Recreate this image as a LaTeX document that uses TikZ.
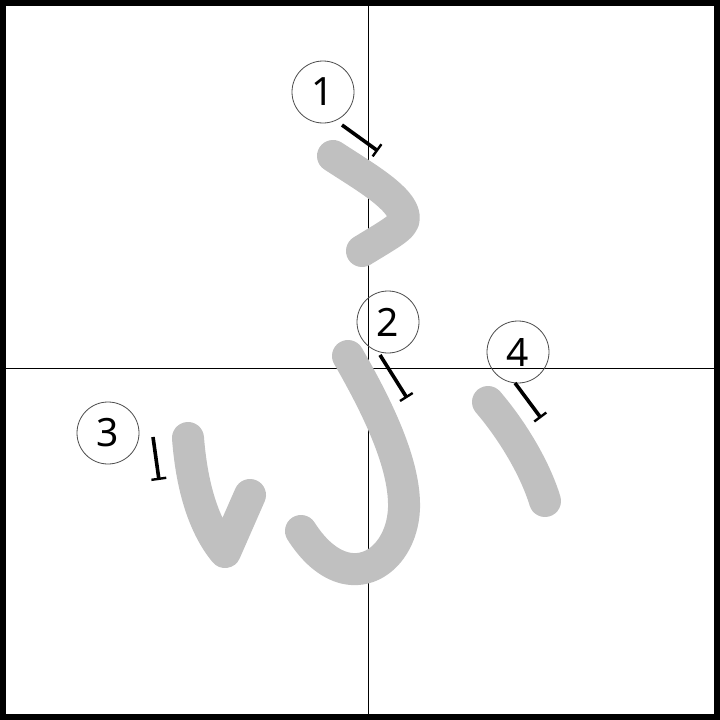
\documentclass[tikz,border=0pt]{standalone}
\usepackage{fontspec}
\setmainfont{Noto Sans}
\usetikzlibrary{arrows.meta}
\definecolor{strokegray}{HTML}{C0C0C0}
\begin{document}
\begin{tikzpicture}[x=1pt,y=-1pt,
  kana/.style={draw=strokegray,line width=32pt,line cap=round,line join=round},
  numcircle/.style={circle,draw=black!70,line width=0.8pt,minimum size=62pt,inner sep=0pt,font=\fontsize{39}{39}\selectfont},
  dirarrow/.style={draw=black,line width=3.6pt,-{Bar[width=15pt,line width=2.4pt]}},
  guide/.style={draw=black,line width=1pt}]
\useasboundingbox (0,0) rectangle (720,720);
\fill[white] (0,0) rectangle (720,720);
% guides
\coordinate (vt) at (368,0);
\coordinate (vb) at (368,720);
\coordinate (hl) at (0,368);
\coordinate (hr) at (720,368);
\draw[guide] (vt) -- (vb);
\draw[guide] (hl) -- (hr);
% strokes
\draw[kana] (333,156) .. controls (362,175) and (397,195) .. (403,213)
  .. controls (407,225) and (398,229) .. (362,251);
\draw[kana] (348,356) .. controls (385,420) and (405,470) .. (404,508)
  .. controls (402,565) and (345,600) .. (301,531);
\draw[kana] (188,438) .. controls (192,490) and (205,528) .. (225,552)
  -- (250,495);
\draw[kana] (488,402) .. controls (512,430) and (535,468) .. (545,501);
% numbers
\node[numcircle] (n1) at (323,92) {1};
\node[numcircle] (n2) at (388,322) {2};
\node[numcircle] (n3) at (108,433) {3};
\node[numcircle] (n4) at (518,352) {4};
% direction arrows
\coordinate (a1s) at (342,125); \coordinate (a1e) at (378,151);
\coordinate (a2s) at (380,355); \coordinate (a2e) at (407,398);
\coordinate (a3s) at (153,437); \coordinate (a3e) at (159,480);
\coordinate (a4s) at (515,383); \coordinate (a4e) at (541,418);
\draw[dirarrow] (a1s) -- (a1e);
\draw[dirarrow] (a2s) -- (a2e);
\draw[dirarrow] (a3s) -- (a3e);
\draw[dirarrow] (a4s) -- (a4e);
% frame
\draw[black,line width=6pt] (3,3) rectangle (717,717);
\end{tikzpicture}
\end{document}
